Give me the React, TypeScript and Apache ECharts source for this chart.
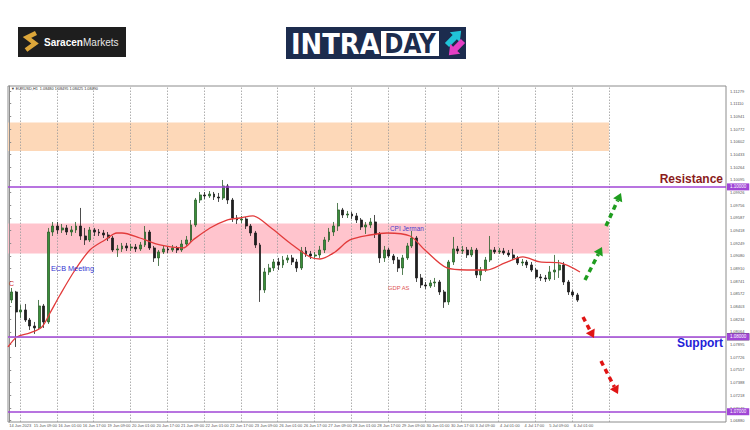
import { useEffect, useRef } from "react";
import * as echarts from "echarts";

// ---------- data ----------
const xLabels = [
  "14 Jun 2023", "15 Jun 09:00", "16 Jun 01:00", "16 Jun 17:00", "19 Jun 09:00", "20 Jun 01:00",
  "20 Jun 17:00", "21 Jun 09:00", "22 Jun 01:00", "22 Jun 17:00", "23 Jun 09:00", "26 Jun 01:00",
  "26 Jun 17:00", "27 Jun 09:00", "28 Jun 01:00", "28 Jun 17:00", "29 Jun 09:00", "30 Jun 01:00",
  "30 Jun 17:00", "3 Jul 09:00", "4 Jul 01:00", "4 Jul 17:00", "5 Jul 09:00", "6 Jul 01:00",
];
const HOURS_PER_LABEL = 16;
const dayStartHours = [7, 31, 55, 79, 103, 127, 151, 175, 199, 223, 247, 271, 295, 319, 343, 367, 391];

const yTicks = [
  1.0688, 1.07049, 1.07218, 1.07388, 1.07557, 1.07726, 1.07895, 1.08064, 1.08234, 1.08403,
  1.08572, 1.08741, 1.0891, 1.0908, 1.09249, 1.09418, 1.09587, 1.09756, 1.09926, 1.10095,
  1.10264, 1.10433, 1.10602, 1.10772, 1.10941, 1.1111, 1.11279,
];

// 3-hour candles: [open, close, low, high]
const CANDLE_HOURS = 3;
const candles: number[][] = [
  [1.08491, 1.08598, 1.08451, 1.08651], [1.08598, 1.08331, 1.07864, 1.08612], [1.08331, 1.08358, 1.08251, 1.08425],
  [1.08358, 1.08224, 1.08198, 1.08438], [1.08224, 1.08144, 1.08091, 1.08251], [1.08144, 1.08118, 1.08038, 1.08198],
  [1.08118, 1.08411, 1.08091, 1.08491], [1.08411, 1.08198, 1.08118, 1.08438], [1.08198, 1.09398, 1.08171, 1.09452],
  [1.09398, 1.09478, 1.09345, 1.09532], [1.09478, 1.09425, 1.09372, 1.09532], [1.09425, 1.09452, 1.09385, 1.09505],
  [1.09452, 1.09398, 1.09358, 1.09492], [1.09398, 1.09425, 1.09345, 1.09478], [1.09425, 1.09478, 1.09385, 1.09532],
  [1.09478, 1.09345, 1.09292, 1.09719], [1.09345, 1.09292, 1.09225, 1.09452], [1.09292, 1.09425, 1.09265, 1.09465],
  [1.09425, 1.09398, 1.09345, 1.09452], [1.09398, 1.09385, 1.09345, 1.09438], [1.09385, 1.09358, 1.09318, 1.09425],
  [1.09358, 1.09318, 1.09278, 1.09398], [1.09318, 1.09158, 1.09132, 1.09345], [1.09158, 1.09172, 1.09065, 1.09225],
  [1.09172, 1.09212, 1.09132, 1.09252], [1.09212, 1.09185, 1.09145, 1.09252], [1.09185, 1.09198, 1.09145, 1.09238],
  [1.09198, 1.09172, 1.09132, 1.09238], [1.09172, 1.09225, 1.09145, 1.09265], [1.09225, 1.09398, 1.09198, 1.09478],
  [1.09398, 1.09185, 1.09158, 1.09425], [1.09185, 1.09052, 1.08998, 1.09212], [1.09052, 1.09132, 1.08945, 1.09158],
  [1.09132, 1.09172, 1.09105, 1.09212], [1.09172, 1.09158, 1.09118, 1.09212], [1.09158, 1.09185, 1.09132, 1.09225],
  [1.09185, 1.09158, 1.09118, 1.09212], [1.09158, 1.09238, 1.09132, 1.09292], [1.09238, 1.09292, 1.09212, 1.09345],
  [1.09292, 1.09492, 1.09265, 1.09558], [1.09492, 1.09825, 1.09465, 1.09852], [1.09825, 1.09892, 1.09785, 1.09932],
  [1.09892, 1.09879, 1.09839, 1.09932], [1.09879, 1.09905, 1.09852, 1.09945], [1.09905, 1.09865, 1.09825, 1.09932],
  [1.09865, 1.09852, 1.09799, 1.09919], [1.09852, 1.10012, 1.09825, 1.10092], [1.10012, 1.09825, 1.09772, 1.10039],
  [1.09825, 1.09585, 1.09532, 1.09852], [1.09585, 1.09558, 1.09505, 1.09625], [1.09558, 1.09572, 1.09518, 1.09612],
  [1.09572, 1.09478, 1.09438, 1.09598], [1.09478, 1.09385, 1.09345, 1.09505], [1.09385, 1.09225, 1.09185, 1.09412],
  [1.09225, 1.08625, 1.08465, 1.09252], [1.08625, 1.08865, 1.08585, 1.08918], [1.08865, 1.08918, 1.08825, 1.08972],
  [1.08918, 1.08998, 1.08878, 1.09038], [1.08998, 1.08958, 1.08891, 1.09052], [1.08958, 1.09025, 1.08918, 1.09078],
  [1.09025, 1.09052, 1.08985, 1.09092], [1.09052, 1.08998, 1.08958, 1.09092], [1.08998, 1.08918, 1.08865, 1.09038],
  [1.08918, 1.09145, 1.08891, 1.09198], [1.09145, 1.09105, 1.09065, 1.09198], [1.09105, 1.09078, 1.09038, 1.09145],
  [1.09078, 1.09092, 1.09038, 1.09132], [1.09092, 1.09158, 1.09052, 1.09212], [1.09158, 1.09292, 1.09118, 1.09332],
  [1.09292, 1.09398, 1.09265, 1.09452], [1.09398, 1.09478, 1.09345, 1.09532], [1.09478, 1.09692, 1.09412, 1.09785],
  [1.09692, 1.09625, 1.09585, 1.09719], [1.09625, 1.09638, 1.09585, 1.09679], [1.09638, 1.09612, 1.09572, 1.09665],
  [1.09612, 1.09558, 1.09518, 1.09652], [1.09558, 1.09465, 1.09425, 1.09585], [1.09465, 1.09492, 1.09372, 1.09532],
  [1.09492, 1.09532, 1.09452, 1.09585], [1.09532, 1.09372, 1.09318, 1.09625], [1.09372, 1.09052, 1.08985, 1.09398],
  [1.09052, 1.09158, 1.08998, 1.09212], [1.09158, 1.09078, 1.09052, 1.09185], [1.09078, 1.09025, 1.08972, 1.09105],
  [1.09025, 1.08918, 1.08865, 1.09065], [1.08918, 1.09052, 1.08825, 1.09092], [1.09052, 1.09212, 1.09025, 1.09252],
  [1.09212, 1.09318, 1.09185, 1.09412], [1.09318, 1.08785, 1.08731, 1.09345], [1.08785, 1.08691, 1.08651, 1.08838],
  [1.08691, 1.08678, 1.08638, 1.08731], [1.08678, 1.08718, 1.08651, 1.08758], [1.08718, 1.08731, 1.08665, 1.08785],
  [1.08731, 1.08598, 1.08558, 1.08758], [1.08598, 1.08465, 1.08385, 1.08625], [1.08465, 1.08998, 1.08425, 1.09025],
  [1.08998, 1.09172, 1.08958, 1.09332], [1.09172, 1.09145, 1.09105, 1.09212], [1.09145, 1.09158, 1.09105, 1.09212],
  [1.09158, 1.09092, 1.09052, 1.09198], [1.09092, 1.09158, 1.09065, 1.09198], [1.09158, 1.08825, 1.08785, 1.09185],
  [1.08825, 1.08891, 1.08745, 1.08931], [1.08891, 1.09025, 1.08865, 1.09065], [1.09025, 1.09158, 1.08998, 1.09345],
  [1.09158, 1.09132, 1.09105, 1.09198], [1.09132, 1.09145, 1.09105, 1.09185], [1.09145, 1.09118, 1.09092, 1.09185],
  [1.09118, 1.09092, 1.09065, 1.09158], [1.09092, 1.09052, 1.09025, 1.09172], [1.09052, 1.08985, 1.08958, 1.09078],
  [1.08985, 1.08998, 1.08945, 1.09038], [1.08998, 1.08958, 1.08918, 1.09025], [1.08958, 1.08891, 1.08865, 1.08998],
  [1.08891, 1.08798, 1.08771, 1.08918], [1.08798, 1.08785, 1.08745, 1.08838], [1.08785, 1.08771, 1.08731, 1.08825],
  [1.08771, 1.08865, 1.08745, 1.08945], [1.08865, 1.08891, 1.08758, 1.09092], [1.08891, 1.08958, 1.08785, 1.09025],
  [1.08958, 1.08731, 1.08691, 1.08998], [1.08731, 1.08598, 1.08558, 1.08758], [1.08598, 1.08558, 1.08531, 1.08625],
  [1.08558, 1.0849, 1.08465, 1.08585],
];

// moving average (red line)
const maHours = [
  -0.8, 5.0, 13.5, 21.3, 26.6, 33.1, 42.9, 52.6, 62.4, 70.2, 73.5, 85.2, 98.3, 113.3, 119.8, 130.9, 141.9,
  150.4, 158.9, 170.0, 183.0, 196.1, 202.6, 212.4, 222.1, 235.2, 246.3, 261.3, 271.0, 285.4, 298.4, 311.4,
  323.2, 334.9, 346.0, 359.0, 372.1,
];
const maValues = [
  1.07864, 1.07998, 1.08051, 1.08131, 1.08318, 1.08558, 1.08891, 1.09158, 1.09292, 1.09385, 1.09385, 1.09318,
  1.09225, 1.09185, 1.09292, 1.09452, 1.09558, 1.09585, 1.09612, 1.09465, 1.09252, 1.09065, 1.09038, 1.09132,
  1.09292, 1.09358, 1.09385, 1.09345, 1.09158, 1.08918, 1.08891, 1.08891, 1.08985, 1.09065, 1.08998, 1.08985,
  1.08865,
];

const resistanceLevel = 1.1;
const supportLevel = 1.08;
const lowerLevel = 1.07;
const bidPrice = 1.0849;
const demandZone = [1.0911, 1.0951];
const supplyZone = [1.1048, 1.1086];
const zoneEndHour = 391;

const X_MIN = -0.8;
const X_MAX = 467.3;
const Y_MIN = 1.06863;
const Y_MAX = 1.11346;

// ---------- styles ----------
const PURPLE = "#a046d6";
const GREEN_ARROW = "#1f9d1f";
const RED_ARROW = "#e01414";

function arrow(x1: number, y1: number, x2: number, y2: number, color: string) {
  const dx = x2 - x1;
  const dy = y2 - y1;
  const len = Math.hypot(dx, dy);
  const ux = dx / len;
  const uy = dy / len;
  const hl = 8;
  const hw = 5;
  const bx = x2 - ux * hl;
  const by = y2 - uy * hl;
  const px = -uy;
  const py = ux;
  return [
    {
      type: "line",
      z: 100,
      shape: { x1, y1, x2: bx, y2: by },
      style: { stroke: color, lineWidth: 3.5, lineDash: [5, 4] },
    },
    {
      type: "polygon",
      z: 100,
      shape: { points: [[x2, y2], [bx + px * hw, by + py * hw], [bx - px * hw, by - py * hw]] },
      style: { fill: color },
    },
  ];
}

function levelLine(value: number, color: string, width: number, boxColor: string) {
  return {
    yAxis: value,
    lineStyle: { color, width, type: "solid" },
    label: {
      show: true,
      position: "end",
      distance: 1,
      formatter: () => value.toFixed(5),
      color: "#fff",
      fontSize: 4.5,
      fontFamily: "Liberation Sans",
      backgroundColor: boxColor,
      padding: [1, 3, 1, 3],
    },
  };
}

function txt(x: number, y: number, text: string, fill: string, fontSize: number, extra: any = {}) {
  return {
    type: "text",
    x,
    y,
    z: 100,
    style: {
      text,
      fill,
      fontSize,
      fontFamily: "Liberation Sans",
      textVerticalAlign: "middle",
      ...extra,
    },
  };
}

function buildOption() {
  const candleData = candles.map((c, i) => [i * CANDLE_HOURS + CANDLE_HOURS / 2, c[0], c[1], c[2], c[3]]);
  const maData = maHours.map((h, i) => [h, maValues[i]]);
  const labelHours = xLabels.map((_, i) => i * HOURS_PER_LABEL);

  const graphics: any[] = [
    // Saracen Markets logo
    { type: "rect", shape: { x: 18, y: 27, width: 108, height: 30 }, style: { fill: "#1e1e1e" } },
    {
      type: "polyline",
      shape: { points: [[36, 33], [27, 37.5], [35, 43.5], [26, 50]] },
      style: { stroke: "#dca63a", lineWidth: 4.5, fill: null, lineJoin: "miter" },
    },
    txt(44, 42, "Saracen", "#ffffff", 10, { fontWeight: "bold" }),
    txt(83, 42, "Markets", "#e6e6e6", 10),
    // INTRADAY logo
    { type: "rect", shape: { x: 286, y: 27, width: 180, height: 32 }, style: { fill: "#1c2c4e" } },
    { type: "rect", shape: { x: 381, y: 31, width: 58, height: 25 }, style: { fill: "#ffffff" } },
    {
      type: "text", x: 291, y: 44, scaleX: 0.89,
      style: { text: "INTRA", fill: "#ffffff", fontSize: 29, fontWeight: "bold", fontFamily: "DejaVu Sans", textVerticalAlign: "middle" },
    },
    {
      type: "text", x: 410, y: 44, scaleX: 0.89,
      style: { text: "DAY", fill: "#1c2c4e", fontSize: 26, fontWeight: "bold", fontFamily: "DejaVu Sans", textAlign: "center", textVerticalAlign: "middle" },
    },
    {
      type: "polygon", x: 447, y: 45, rotation: Math.PI / 4,
      shape: { points: [[0, -3], [11, -3], [11, -7], [20, 0], [11, 7], [11, 3], [0, 3]] },
      style: { fill: "#21c4d8" },
    },
    {
      type: "polygon", x: 463, y: 41, rotation: (5 * Math.PI) / 4,
      shape: { points: [[0, -3], [11, -3], [11, -7], [20, 0], [11, 7], [11, 3], [0, 3]] },
      style: { fill: "#e43fc4" },
    },
    // chart title
    txt(11, 89, "▼ EURUSD,H1  1.08480 1.08495 1.08425 1.08490", "#333333", 3.8),
    // annotations
    txt(9, 283, "C", "#d83030", 7),
    txt(51, 268, "ECB Meeting", "#3434d0", 7.3),
    txt(390, 228, "CPI Jerman", "#4a3cc8", 6.4),
    txt(388, 288, "GDP AS", "#e05555", 5.8),
    txt(723, 179, "Resistance", "#8b1c1c", 12, { fontWeight: "bold", textAlign: "right" }),
    txt(723, 343, "Support", "#1f22d8", 12, { fontWeight: "bold", textAlign: "right" }),
    ...arrow(585, 280, 602, 247, GREEN_ARROW),
    ...arrow(606, 226, 621, 193, GREEN_ARROW),
    ...arrow(583, 317, 594, 338, RED_ARROW),
    ...arrow(601, 361, 618, 394, RED_ARROW),
  ];

  return {
    animation: false,
    backgroundColor: "#ffffff",
    textStyle: { fontFamily: "Liberation Sans" },
    grid: {
      left: 8, right: 24, top: 86, bottom: 8,
      show: true, borderColor: "#8c8c8c", borderWidth: 1, backgroundColor: "transparent",
    },
    xAxis: {
      type: "value",
      min: X_MIN,
      max: X_MAX,
      axisLine: { show: false },
      axisTick: { show: false },
      splitLine: { show: false },
      axisLabel: {
        customValues: labelHours,
        formatter: (v: number) => xLabels[Math.round(v / HOURS_PER_LABEL)] ?? "",
        align: "left",
        fontSize: 4,
        color: "#555",
        margin: 1.5,
      },
    },
    yAxis: {
      type: "value",
      position: "right",
      min: Y_MIN,
      max: Y_MAX,
      scale: true,
      axisLine: { show: true, lineStyle: { color: "#8c8c8c" } },
      axisTick: { show: true, customValues: yTicks, length: 2, lineStyle: { color: "#8c8c8c" } },
      splitLine: { show: false },
      axisLabel: {
        customValues: yTicks,
        formatter: (v: number) => v.toFixed(5),
        fontSize: 4,
        color: "#555",
        margin: 4,
      },
    },
    graphic: graphics,
    series: [
      {
        type: "candlestick",
        data: candleData,
        barWidth: 2.4,
        z: 2,
        itemStyle: {
          color: "#3a8f3a",
          color0: "#1f1f1f",
          borderColor: "#2a5e2a",
          borderColor0: "#1f1f1f",
          borderWidth: 0.8,
        },
        markArea: {
          silent: true,
          z: 0,
          data: [
            [
              { xAxis: X_MIN, yAxis: demandZone[0], itemStyle: { color: "#ffc4cd" } },
              { xAxis: zoneEndHour, yAxis: demandZone[1] },
            ],
            [
              { xAxis: X_MIN, yAxis: supplyZone[0], itemStyle: { color: "#fdd8b8" } },
              { xAxis: zoneEndHour, yAxis: supplyZone[1] },
            ],
          ],
        },
        markLine: {
          silent: true,
          z: 1,
          symbol: ["none", "none"],
          label: { show: false },
          lineStyle: { color: "#9a9a9a", type: [1.5, 1.5], width: 0.8 },
          data: dayStartHours.map((h) => ({ xAxis: h })),
        },
      },
      {
        type: "line",
        data: maData,
        showSymbol: false,
        smooth: 0.3,
        z: 3,
        lineStyle: { color: "#e23b3b", width: 1.3 },
        markLine: {
          silent: true,
          symbol: ["none", "none"],
          data: [
            levelLine(bidPrice, "#cfcfcf", 1, "#111111"),
            levelLine(resistanceLevel, PURPLE, 1.6, PURPLE),
            levelLine(supportLevel, PURPLE, 1.6, PURPLE),
            levelLine(lowerLevel, PURPLE, 1.6, PURPLE),
          ],
        },
      },
    ],
  };
}

export default function App() {
  const ref = useRef<HTMLDivElement>(null);
  useEffect(() => {
    if (!ref.current) return;
    const chart = echarts.init(ref.current, null, { renderer: "svg" });
    chart.setOption(buildOption() as any);
    return () => chart.dispose();
  }, []);
  return (
    <div
      ref={ref}
      style={{ position: "fixed", left: 0, top: 0, width: 750, height: 430, background: "#fff" }}
    />
  );
}
